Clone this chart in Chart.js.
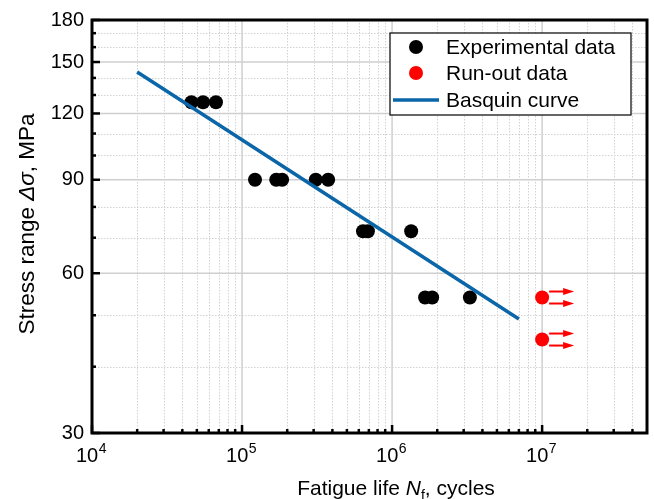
<!DOCTYPE html>
<html>
<head>
<meta charset="utf-8">
<script src="https://cdn.jsdelivr.net/npm/chart.js@4.4.1/dist/chart.umd.min.js"></script>
<style>
html,body{margin:0;padding:0;background:#fff;}
#wrap{width:654px;height:499px;}
</style>
</head>
<body>
<div id="wrap"><canvas id="c" width="654" height="499"></canvas></div>
<script>
// ---- data ----
const expCycles = [4.6e4, 5.5e4, 6.7e4, 1.22e5, 1.69e5, 1.85e5, 3.1e5, 3.75e5, 6.4e5, 6.9e5, 1.34e6, 1.66e6, 1.85e6, 3.3e6];
const expStress = [126, 126, 126, 90, 90, 90, 90, 90, 72, 72, 72, 54, 54, 54];
const runCycles = [1e7, 1e7];
const runStress = [54, 45];
const basquinCycles = [2e4, 7e6];
const basquinStress = [143.7, 49.2];
const seriesLabels = ['Experimental data', 'Run-out data', 'Basquin curve'];
const yMajorTicks = [30, 60, 90, 120, 150, 180];
const yMinorTicks = [40, 50, 70, 80, 100, 110, 130, 140, 160, 170];
const xMajorExp = [4, 5, 6, 7];
const xRange = [1e4, 5e7];
const yRange = [30, 180];

const FONT = "'Liberation Sans', Arial, sans-serif";

function xMinorTicks() {
  const out = [];
  for (let e = 4; e <= 7; e++) for (let m = 2; m <= 9; m++) {
    const v = m * Math.pow(10, e);
    if (v < xRange[1]) out.push(v);
  }
  return out;
}

const decor = {
  id: 'decor',
  beforeDatasetsDraw(chart) {
    const {ctx, chartArea: a, scales: {x, y}} = chart;
    ctx.save();
    ctx.strokeStyle = '#d2d2d2';
    ctx.lineWidth = 1;
    ctx.setLineDash([1.5, 1.5]);
    xMinorTicks().forEach(v => {
      const px = Math.round(x.getPixelForValue(v)) + 0.5;
      ctx.beginPath(); ctx.moveTo(px, a.top); ctx.lineTo(px, a.bottom); ctx.stroke();
    });
    yMinorTicks.forEach(v => {
      const py = Math.round(y.getPixelForValue(v)) + 0.5;
      ctx.beginPath(); ctx.moveTo(a.left, py); ctx.lineTo(a.right, py); ctx.stroke();
    });
    ctx.setLineDash([]);
    ctx.strokeStyle = '#cfcfcf';
    ctx.lineWidth = 1.5;
    xMajorExp.forEach(e => {
      const px = x.getPixelForValue(Math.pow(10, e));
      ctx.beginPath(); ctx.moveTo(px, a.top); ctx.lineTo(px, a.bottom); ctx.stroke();
    });
    yMajorTicks.forEach(v => {
      const py = y.getPixelForValue(v);
      ctx.beginPath(); ctx.moveTo(a.left, py); ctx.lineTo(a.right, py); ctx.stroke();
    });
    ctx.restore();
  },
  afterDatasetsDraw(chart) {
    const {ctx, chartArea: a, scales: {x, y}} = chart;
    ctx.save();
    // run-out arrows
    const meta = chart.getDatasetMeta(1);
    ctx.strokeStyle = '#ff0000';
    ctx.fillStyle = '#ff0000';
    ctx.lineWidth = 2;
    meta.data.forEach(pt => {
      [-6, 6].forEach(dy => {
        const yy = pt.y + dy;
        const x0 = pt.x + 7, x1 = pt.x + 22, x2 = pt.x + 32;
        ctx.beginPath(); ctx.moveTo(x0, yy); ctx.lineTo(x1, yy); ctx.stroke();
        ctx.beginPath(); ctx.moveTo(x1 - 1, yy - 3.5); ctx.lineTo(x2, yy); ctx.lineTo(x1 - 1, yy + 3.5); ctx.closePath(); ctx.fill();
      });
    });
    // frame
    ctx.strokeStyle = '#000';
    ctx.lineWidth = 3;
    ctx.strokeRect(a.left, a.top, a.right - a.left, a.bottom - a.top);
    // ticks inward
    ctx.lineWidth = 2.5;
    yMajorTicks.forEach(v => {
      const py = y.getPixelForValue(v);
      ctx.beginPath(); ctx.moveTo(a.left, py); ctx.lineTo(a.left + 8, py); ctx.stroke();
    });
    yMinorTicks.forEach(v => {
      const py = y.getPixelForValue(v);
      ctx.beginPath(); ctx.moveTo(a.left, py); ctx.lineTo(a.left + 4, py); ctx.stroke();
    });
    xMajorExp.forEach(e => {
      const px = x.getPixelForValue(Math.pow(10, e));
      ctx.beginPath(); ctx.moveTo(px, a.bottom); ctx.lineTo(px, a.bottom - 8); ctx.stroke();
    });
    xMinorTicks().forEach(v => {
      const px = x.getPixelForValue(v);
      ctx.beginPath(); ctx.moveTo(px, a.bottom); ctx.lineTo(px, a.bottom - 4); ctx.stroke();
    });
    // y tick labels
    ctx.fillStyle = '#000';
    ctx.font = '20px ' + FONT;
    ctx.textAlign = 'right';
    ctx.textBaseline = 'middle';
    yMajorTicks.forEach(v => {
      ctx.fillText(String(v), a.left - 8, y.getPixelForValue(v));
    });
    // x tick labels 10^n
    ctx.textBaseline = 'alphabetic';
    ctx.textAlign = 'left';
    xMajorExp.forEach(e => {
      const px = x.getPixelForValue(Math.pow(10, e));
      ctx.font = '20px ' + FONT;
      const w1 = ctx.measureText('10').width;
      ctx.font = '14px ' + FONT;
      const w2 = ctx.measureText(String(e)).width;
      const start = px - (w1 + w2) / 2 - 1;
      ctx.font = '20px ' + FONT;
      ctx.fillText('10', start, a.bottom + 29);
      ctx.font = '14px ' + FONT;
      ctx.fillText(String(e), start + w1 + 0.5, a.bottom + 20);
    });
    // x title
    const xs = [
      {t: 'Fatigue life ', f: '21px ' + FONT, dy: 0},
      {t: 'N', f: 'italic 21px ' + FONT, dy: 0},
      {t: 'f', f: '14px ' + FONT, dy: 5},
      {t: ', cycles', f: '21px ' + FONT, dy: 0}
    ];
    let tw = 0;
    xs.forEach(s => { ctx.font = s.f; s.w = ctx.measureText(s.t).width; tw += s.w; });
    let cx = 396 - tw / 2;
    xs.forEach(s => { ctx.font = s.f; ctx.fillText(s.t, cx, 495 + s.dy); cx += s.w; });
    // y title
    const ys = [
      {t: 'Stress range ', f: '22.5px ' + FONT},
      {t: 'Δσ', f: 'italic 22.5px ' + FONT},
      {t: ', MPa', f: '22.5px ' + FONT}
    ];
    tw = 0;
    ys.forEach(s => { ctx.font = s.f; s.w = ctx.measureText(s.t).width; tw += s.w; });
    ctx.save();
    ctx.translate(34, 224);
    ctx.rotate(-Math.PI / 2);
    cx = -tw / 2;
    ys.forEach(s => { ctx.font = s.f; ctx.fillText(s.t, cx, 0); cx += s.w; });
    ctx.restore();
    // legend
    const lx = 390, ly = 33, lw = 241, lh = 82;
    ctx.fillStyle = '#fff';
    ctx.fillRect(lx, ly, lw, lh);
    ctx.strokeStyle = '#000';
    ctx.lineWidth = 1.2;
    ctx.strokeRect(lx, ly, lw, lh);
    const rows = [47, 73, 100];
    chart.data.datasets.forEach((ds, i) => {
      const ry = rows[i];
      if (ds.showLine) {
        ctx.strokeStyle = ds.borderColor;
        ctx.lineWidth = 3.5;
        ctx.beginPath(); ctx.moveTo(393, ry); ctx.lineTo(439, ry); ctx.stroke();
      } else {
        ctx.fillStyle = ds.backgroundColor;
        ctx.beginPath(); ctx.arc(416, ry, 7, 0, Math.PI * 2); ctx.fill();
      }
      ctx.fillStyle = '#000';
      ctx.font = '21px ' + FONT;
      ctx.textAlign = 'left';
      ctx.textBaseline = 'middle';
      ctx.fillText(ds.label, 446, ry + 1);
    });
    ctx.restore();
  }
};

const toPts = (xs, ys) => xs.map((v, i) => ({x: v, y: ys[i]}));

new Chart(document.getElementById('c'), {
  type: 'scatter',
  data: {
    datasets: [
      {label: seriesLabels[0], data: toPts(expCycles, expStress), backgroundColor: '#000', borderColor: '#000', pointRadius: 7, pointHoverRadius: 7, borderWidth: 0, order: 2},
      {label: seriesLabels[1], data: toPts(runCycles, runStress), backgroundColor: '#ff0000', borderColor: '#ff0000', pointRadius: 7, pointHoverRadius: 7, borderWidth: 0, order: 2},
      {label: seriesLabels[2], data: toPts(basquinCycles, basquinStress), type: 'line', showLine: true, borderColor: '#0a66a8', backgroundColor: '#0a66a8', borderWidth: 3.5, pointRadius: 0, fill: false, order: 0}
    ]
  },
  options: {
    responsive: false,
    animation: false,
    events: [],
    layout: {padding: {left: 92, top: 20, right: 7, bottom: 66}},
    plugins: {legend: {display: false}, tooltip: {enabled: false}},
    scales: {
      x: {type: 'logarithmic', min: xRange[0], max: xRange[1], display: false},
      y: {type: 'logarithmic', min: yRange[0], max: yRange[1], display: false}
    }
  },
  plugins: [decor]
});
</script>
</body>
</html>
